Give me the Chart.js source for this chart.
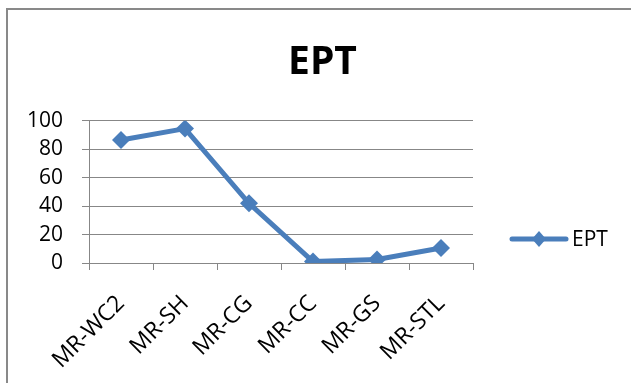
<!DOCTYPE html>
<html>
<head>
<meta charset="utf-8">
<script src="https://cdn.jsdelivr.net/npm/chart.js@4/dist/chart.umd.min.js"></script>
<style>
  html, body { margin: 0; padding: 0; background: #fff; }
  #wrap { width: 631px; height: 383px; position: relative; }
</style>
</head>
<body>
<div id="wrap"><canvas id="c" width="631" height="383"></canvas></div>
<script>
// Sampling sites and EPT values
const sites = ['MR-WC2', 'MR-SH', 'MR-CG', 'MR-CC', 'MR-GS', 'MR-STL'];
const eptValues = [86.5, 94.5, 42, 1, 2.5, 10.5];
const yTicks = [0, 20, 40, 60, 80, 100];
const seriesName = 'EPT';
const chartTitle = 'EPT';

const BLUE = '#4a7ebb';
const GRID = '#878787';
const FONT = '"Open Sans", "Noto Sans", sans-serif';

// White page with a thin gray frame on the top and left edges
const framePlugin = {
  id: 'frame',
  beforeDraw(chart) {
    const ctx = chart.ctx;
    ctx.save();
    ctx.fillStyle = '#fff';
    ctx.fillRect(0, 0, chart.width, chart.height);
    ctx.fillStyle = '#898989';
    ctx.fillRect(6, 8, chart.width - 6, 2);
    ctx.fillRect(6, 8, 2, chart.height - 8);
    ctx.restore();
  }
};

// Legend entry on the right: line with a diamond marker, then the series name
const sideLegend = {
  id: 'sideLegend',
  afterDraw(chart) {
    const ctx = chart.ctx;
    const ds = chart.data.datasets[0];
    const x0 = chart.chartArea.right + 39;
    const x1 = x0 + 54;
    const y = 239;
    ctx.save();
    ctx.strokeStyle = ds.borderColor;
    ctx.lineWidth = 5;
    ctx.lineCap = 'round';
    ctx.beginPath();
    ctx.moveTo(x0, y);
    ctx.lineTo(x1, y);
    ctx.stroke();
    const cx = (x0 + x1) / 2;
    ctx.fillStyle = ds.backgroundColor;
    ctx.beginPath();
    ctx.moveTo(cx, y - 8);
    ctx.lineTo(cx + 7, y);
    ctx.lineTo(cx, y + 8);
    ctx.lineTo(cx - 7, y);
    ctx.closePath();
    ctx.fill();
    ctx.fillStyle = '#000';
    ctx.font = '21px ' + FONT;
    ctx.textBaseline = 'middle';
    ctx.textAlign = 'left';
    ctx.fillText(ds.label, x1 + 6, y + 1);
    ctx.restore();
  }
};

new Chart(document.getElementById('c'), {
  type: 'line',
  data: {
    labels: sites,
    datasets: [{
      label: seriesName,
      data: eptValues,
      borderColor: BLUE,
      backgroundColor: BLUE,
      borderWidth: 5,
      tension: 0,
      pointStyle: 'rectRot',
      pointRadius: 9,
      pointHoverRadius: 9,
      pointBackgroundColor: BLUE,
      pointBorderColor: BLUE,
      pointBorderWidth: 0
    }]
  },
  options: {
    responsive: false,
    animation: false,
    events: [],
    layout: { padding: { left: 14, right: 0, top: 0, bottom: 0 } },
    plugins: {
      legend: { display: false },
      tooltip: { enabled: false },
      title: {
        display: true,
        text: chartTitle,
        color: '#000',
        font: { family: FONT, size: 39, weight: 'bold', lineHeight: 1.2 },
        padding: { top: 39, bottom: 35 }
      }
    },
    scales: {
      x: {
        type: 'category',
        offset: true,
        afterFit(s) { s.height = 120; },
        grid: {
          offset: true,
          drawOnChartArea: false,
          drawTicks: true,
          tickLength: 7,
          color: GRID,
          lineWidth: 1
        },
        border: { display: true, color: GRID, width: 1 },
        ticks: {
          color: '#000',
          font: { family: FONT, size: 23 },
          minRotation: 45,
          maxRotation: 45,
          autoSkip: false,
          padding: 20
        }
      },
      y: {
        min: 0,
        max: 100,
        afterFit(s) { s.width = 75; },
        afterBuildTicks(s) { s.ticks = yTicks.map(v => ({ value: v })); },
        grid: {
          color: GRID,
          lineWidth: 1,
          tickLength: 7,
          drawTicks: true
        },
        border: { display: true, color: GRID, width: 1 },
        ticks: {
          color: '#000',
          font: { family: FONT, size: 21 },
          padding: 19
        }
      },
      legendSpace: {
        type: 'linear',
        position: 'right',
        display: true,
        afterFit(s) { s.width = 158; },
        grid: { display: false, drawTicks: false },
        border: { display: false },
        ticks: { display: false }
      }
    }
  },
  plugins: [framePlugin, sideLegend]
});
</script>
</body>
</html>
